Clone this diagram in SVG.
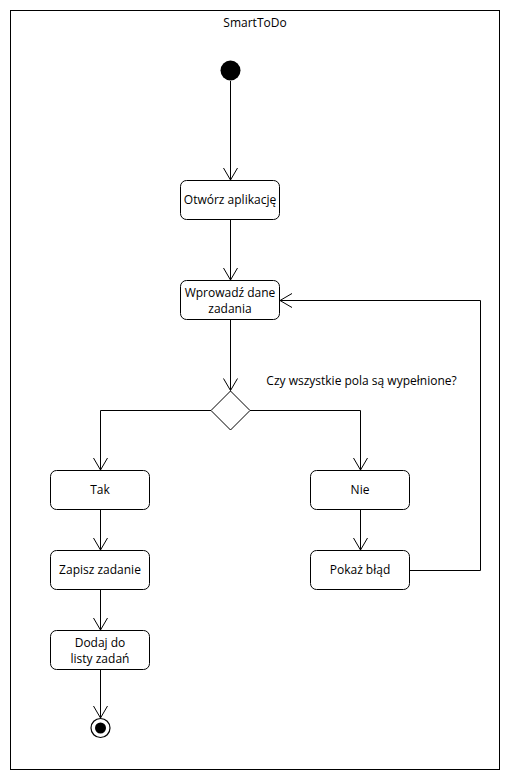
<svg xmlns="http://www.w3.org/2000/svg" width="510" height="780" viewBox="0 0 510 780">
<style>
.node{fill:#fff;stroke:#000;stroke-width:1}
.t{font-family:"Open Sans","DejaVu Sans",sans-serif;font-size:12px;fill:#000;text-anchor:middle}
.e{fill:none;stroke:#000;stroke-width:1}
</style>
<defs>
<marker id="open" viewBox="0 0 14 16" refX="13" refY="8" markerWidth="14" markerHeight="16" markerUnits="userSpaceOnUse" orient="auto">
<path d="M1,1 L13,8 L1,15" fill="none" stroke="#000" stroke-width="1"/>
</marker>
</defs>
<rect x="0" y="0" width="510" height="780" fill="#fff"/>
<g id="frame">
<rect x="10.5" y="10.5" width="489" height="759" fill="none" stroke="#000" stroke-width="1"/>
<text class="t" x="255" y="27">SmartToDo</text>
</g>
<g id="connectors">
<path class="e" d="M230.5,81 L230.5,180" marker-end="url(#open)"/>
<path class="e" d="M230.5,220 L230.5,280" marker-end="url(#open)"/>
<path class="e" d="M230.5,320 L230.5,390.5" marker-end="url(#open)"/>
<path class="e" d="M211,410.5 L100.5,410.5 L100.5,470" marker-end="url(#open)"/>
<path class="e" d="M250,410.5 L360.5,410.5 L360.5,470" marker-end="url(#open)"/>
<path class="e" d="M100.5,510 L100.5,550" marker-end="url(#open)"/>
<path class="e" d="M100.5,590 L100.5,630" marker-end="url(#open)"/>
<path class="e" d="M100.5,670 L100.5,718" marker-end="url(#open)"/>
<path class="e" d="M360.5,510 L360.5,550" marker-end="url(#open)"/>
<path class="e" d="M410,570.5 L480.5,570.5 L480.5,300.5 L280,300.5" marker-end="url(#open)"/>
<text class="t" x="361.5" y="385">Czy wszystkie pola są wypełnione?</text>
</g>
<g id="start">
<circle cx="230.5" cy="70.5" r="10" fill="#000"/>
</g>
<g id="otworz">
<rect class="node" x="180.5" y="180.5" width="99" height="39" rx="6"/>
<text class="t" x="230" y="204">Otwórz aplikację</text>
</g>
<g id="wprowadz">
<rect class="node" x="180.5" y="280.5" width="99" height="39" rx="6"/>
<text class="t" x="230" y="297">Wprowadź dane</text>
<text class="t" x="230" y="313">zadania</text>
</g>
<g id="decision">
<path class="node" d="M230.5,391 L250,410.5 L230.5,430 L211,410.5 Z"/>
</g>
<g id="tak">
<rect class="node" x="50.5" y="470.5" width="99" height="39" rx="6"/>
<text class="t" x="100" y="494">Tak</text>
</g>
<g id="nie">
<rect class="node" x="310.5" y="470.5" width="99" height="39" rx="6"/>
<text class="t" x="360" y="494">Nie</text>
</g>
<g id="zapisz">
<rect class="node" x="50.5" y="550.5" width="99" height="39" rx="6"/>
<text class="t" x="100" y="574">Zapisz zadanie</text>
</g>
<g id="pokaz">
<rect class="node" x="310.5" y="550.5" width="99" height="39" rx="6"/>
<text class="t" x="360" y="574">Pokaż błąd</text>
</g>
<g id="dodaj">
<rect class="node" x="50.5" y="630.5" width="99" height="39" rx="6"/>
<text class="t" x="100" y="647">Dodaj do</text>
<text class="t" x="100" y="663">listy zadań</text>
</g>
<g id="end">
<circle cx="100.5" cy="728" r="9.5" fill="#fff" stroke="#000" stroke-width="1.2"/>
<circle cx="100.5" cy="728" r="5.5" fill="#000"/>
</g>
</svg>
